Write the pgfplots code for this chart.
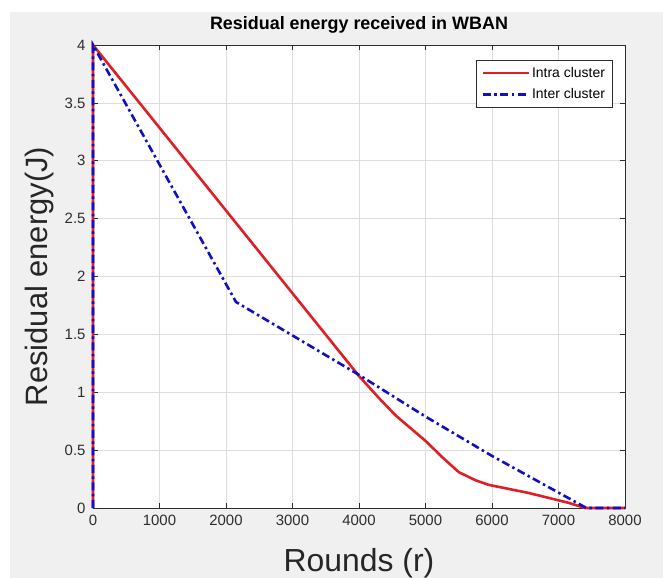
\documentclass[border=0pt]{standalone}
\usepackage{pgfplots}
\pgfplotsset{compat=1.18}
\usepackage{fontspec}
\setmainfont{Liberation Sans}
\definecolor{bgc}{RGB}{240,240,240}
\definecolor{myred}{RGB}{222,32,38}
\definecolor{myblue}{RGB}{15,15,195}
\definecolor{axc}{RGB}{45,45,45}
\definecolor{gridc}{RGB}{222,222,222}
\begin{document}
\begin{tikzpicture}
\useasboundingbox (0bp,0bp) rectangle (663bp,578bp);
\fill[white] (0bp,0bp) rectangle (663bp,578bp);
\fill[bgc] (10bp,0bp) rectangle (663bp,566bp);
\begin{axis}[
  at={(93bp,70bp)}, anchor=south west,
  scale only axis, width=532bp, height=463bp,
  xmin=0, xmax=8000, ymin=0, ymax=4,
  xtick={0,1000,...,8000}, ytick={0,0.5,...,4},
  scaled ticks=false,
  clip=false,
  /pgf/number format/1000 sep={},
  /pgf/number format/assume math mode=true,
  axis background/.style={fill=white},
  grid=major,
  major grid style={gridc, line width=0.7bp},
  axis line style={axc, line width=0.8bp},
  tick align=inside,
  major tick length=5bp,
  tick style={axc, line width=0.7bp},
  xticklabel style={font=\fontsize{15}{17}\selectfont, text=axc, yshift=-4bp},
  yticklabel style={font=\fontsize{15}{17}\selectfont, text=axc, xshift=-4bp},
  title={\textbf{Residual energy received in WBAN}},
  title style={font=\fontsize{18}{20}\selectfont, at={(axis description cs:0.5,1)}, anchor=south, yshift=6bp, inner sep=0pt},
  xlabel={Rounds (r)},
  xlabel style={font=\fontsize{32}{36}\selectfont, text=black!85, at={(axis description cs:0.5,0)}, anchor=north, yshift=-40bp, inner sep=0pt},
  ylabel={Residual energy(J)},
  ylabel style={font=\fontsize{31}{35}\selectfont, text=black!85, at={(axis description cs:-0.1,0.5)}, anchor=center, inner sep=0pt},
  legend style={at={(0.976,0.968)}, anchor=north east, font=\fontsize{14}{16}\selectfont, draw=axc, fill=white, line width=0.6bp, row sep=6bp, inner sep=5bp},
  legend cell align=left,
  legend image code/.code={\draw[#1] (0bp,0bp) -- (46bp,0bp);},
]
\addplot[myred, line width=2.6bp] coordinates {
 (0,0) (0,4) (4000,1.14) (4300,0.95) (4550,0.80) (5000,0.58) (5250,0.44)
 (5500,0.31) (5750,0.24) (5950,0.20) (6250,0.165) (6550,0.13) (7150,0.045) (7400,0) (8000,0)};
\addlegendentry{Intra cluster}
\addplot[myblue, line width=2.6bp, dash pattern=on 8bp off 3.5bp on 2.5bp off 3.5bp] coordinates {
 (0,0) (0,4) (2150,1.78) (4000,1.15) (5000,0.79) (6000,0.45) (7420,0) (8000,0)};
\addlegendentry{Inter cluster}
\end{axis}
\end{tikzpicture}
\end{document}
